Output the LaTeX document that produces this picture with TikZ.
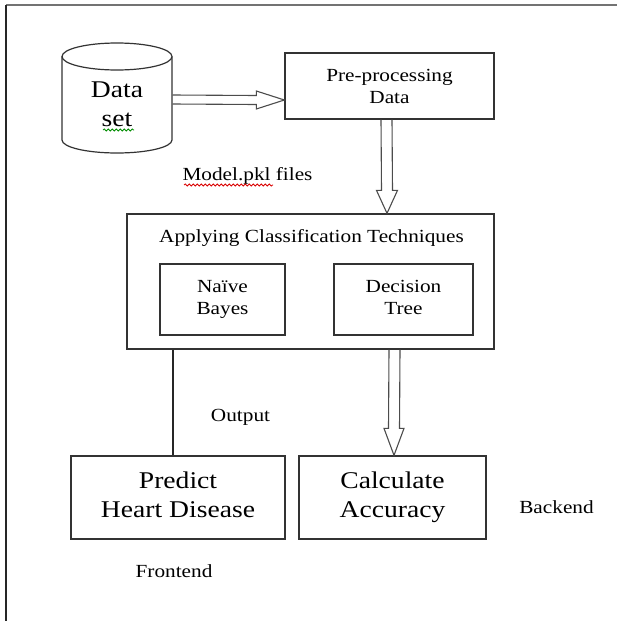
\documentclass[tikz,border=0pt]{standalone}
\usepackage{fontspec}
\setmainfont{Liberation Serif}[FakeStretch=1.15]
\usetikzlibrary{calc,decorations.pathmorphing}
\begin{document}
\begin{tikzpicture}[x=1pt,y=-1pt,
  box/.style={draw=black!80, line width=1.3pt, inner sep=0pt, align=center},
  bigtxt/.style={font=\fontsize{24}{29}\selectfont},
  medtxt/.style={font=\fontsize{18.5}{22}\selectfont},
  lbl/.style={font=\fontsize{18.5}{22}\selectfont, inner sep=0pt, anchor=base},
  hollow/.style={draw=black!70, line width=1.1pt, line join=miter},
  wavy/.style={decorate, decoration={snake, segment length=4pt, amplitude=1pt}, line width=0.8pt},
]
\useasboundingbox (0,0) rectangle (617,621);
% frame
\draw[black!55, line width=1.5pt] (6,5) -- (617,5);
\draw[black!85, line width=1.8pt] (6,5) -- (6,621);

% cylinder
\draw[black!80, line width=1.2pt] (62,56.5) -- (62,140) arc[start angle=180, end angle=360, x radius=55pt, y radius=13pt] -- (172,56.5);
\draw[black!80, line width=1.2pt] (117,56.5) ellipse [x radius=55pt, y radius=13.5pt];
\node[bigtxt, inner sep=0pt, align=center] (ds) at (117,104.5) {Data\\set};
\coordinate (cylR) at (172.5,99.5);

% boxes
\node[box, medtxt, minimum width=209pt, minimum height=66pt] (pre) at (389.5,86) {Pre-processing\\Data};
\node[box, minimum width=367pt, minimum height=135pt] (cls) at (310.5,281.5) {};
\node[lbl] (clst) at (311.5,242) {Applying Classification Techniques};
\node[box, medtxt, minimum width=125pt, minimum height=71pt] (nb) at (222.5,299.5) {Naïve\\Bayes};
\node[box, medtxt, minimum width=139pt, minimum height=71pt] (dt) at (403.5,299.5) {Decision\\Tree\vphantom{y}};
\node[box, bigtxt, minimum width=214pt, minimum height=83pt] (pd) at (178,497.5) {Predict\\Heart Disease\vphantom{y}};
\node[box, bigtxt, minimum width=187pt, minimum height=83pt] (ca) at (392.5,497.5) {Calculate\\Accuracy};

% labels
\node[lbl] (mdl) at (247.5,180) {Model.pkl files};
\node[lbl] (out) at (240.5,421) {Output};
\node[lbl] (fe) at (174,577) {Frontend};
\node[lbl] (be) at (556.5,513) {Backend};

% spell-check squiggles
\draw[wavy, draw=green!55!black] (103,130) -- (134,130);
\draw[wavy, draw=red!85!black] (184,185) -- (273,185);

% arrow 1: dataset -> preprocessing
\coordinate (a1t) at ($(pre.west)+(0,14)$);
\draw[hollow] ($(cylR)+(0,-4.5)$) -- ($(a1t)+(-28,-4.5)$) -- ($(a1t)+(-28,-9)$) -- (a1t)
  -- ($(a1t)+(-28,9)$) -- ($(a1t)+(-28,4.5)$) -- ($(cylR)+(0,4.5)$);

% arrow 2: preprocessing -> classification
\coordinate (a2s) at ($(pre.south)+(-3,0)$);
\coordinate (a2t) at ($(cls.north)+(76.5,0)$);
\draw[hollow] ($(a2s)+(-5.5,0)$) -- ($(a2t)+(-5.5,-23)$) -- ($(a2t)+(-10.5,-23)$) -- (a2t)
  -- ($(a2t)+(10.5,-23)$) -- ($(a2t)+(5.5,-23)$) -- ($(a2s)+(5.5,0)$);

% arrow 3: classification -> accuracy
\coordinate (a3s) at ($(cls.south)+(84,0)$);
\coordinate (a3t) at ($(ca.north)+(1.5,0)$);
\draw[hollow] ($(a3s)+(-5.5,0)$) -- ($(a3t)+(-5.5,-27)$) -- ($(a3t)+(-10,-27)$) -- (a3t)
  -- ($(a3t)+(10,-27)$) -- ($(a3t)+(5.5,-27)$) -- ($(a3s)+(5.5,0)$);

% output line
\draw[black!85, line width=1.3pt] ($(cls.south)+(-137.5,0)$) -- ($(pd.north)+(-5,0)$);
\end{tikzpicture}
\end{document}
